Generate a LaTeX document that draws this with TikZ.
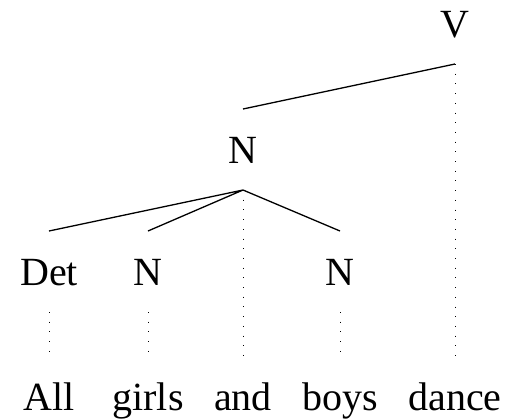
\documentclass[tikz,border=0pt]{standalone}
\usepackage{fontspec}
\setmainfont{Liberation Serif}
\usepackage{tikz}

\tikzset{
    cat/.style={font=\fontsize{40}{48}\selectfont, inner sep=0pt, outer sep=27pt,
                text height=27pt, text depth=0pt, anchor=base},
    word/.style={cat, text depth=9pt},
    branch/.style={line width=1.3pt, black},
    leaf/.style={line width=1pt, dash pattern=on 0.8pt off 8.9pt, black}
}

\begin{document}
\begin{tikzpicture}[x=1pt, y=-1pt]
        \useasboundingbox (0,0) rectangle (508,418);

        % words of the sentence
        \foreach \x/\w/\n in {49/All/all, 148/girls/girls, 243/and/and, 340/boys/boys, 455/dance/dance} {
            \node[word] (\n) at (\x,410) {\w};
        }

        % categories
        \node[cat] (det) at (49,285) {Det};
        \node[cat] (ngirls) at (148,285) {N};
        \node[cat] (nboys) at (340,285) {N};
        \node[cat] (nphrase) at (243,163) {N};
        \node[cat] (v) at (455,37) {V};

        % branches
        \draw[branch] (v.south) -- (nphrase.north);
        \draw[branch] (nphrase.south) -- (det.north)
                      (nphrase.south) -- (ngirls.north)
                      (nphrase.south) -- (nboys.north);

        % dotted links down to the words
        \draw[leaf] (det.south) -- (all.north);
        \draw[leaf] (ngirls.south) -- (girls.north);
        \draw[leaf] (nboys.south) -- (boys.north);
        \draw[leaf] (nphrase.south) -- (and.north);
        \draw[leaf] (v.south) -- (dance.north);
    \end{tikzpicture}
\end{document}
